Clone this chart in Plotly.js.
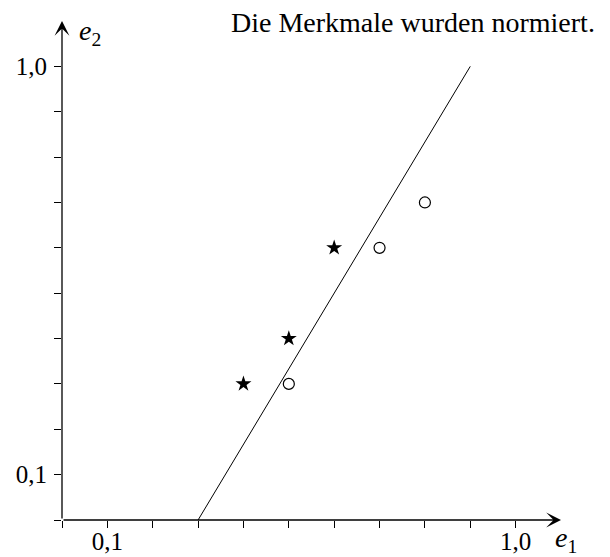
<!DOCTYPE html>
<html>
<head>
<meta charset="utf-8">
<script src="https://cdn.plot.ly/plotly-3.0.1.min.js"></script>
<style>html,body{margin:0;padding:0;background:#fff;}#chart{width:610px;height:557px;}</style>
</head>
<body>
<div id="chart"></div>
<script>
// data
const starX = [0.4, 0.5, 0.6];
const starY = [0.3, 0.4, 0.6];
const circleX = [0.5, 0.7, 0.8];
const circleY = [0.3, 0.6, 0.7];
const lineX = [0.3, 0.9];
const lineY = [0.0, 1.0];
const tickVals = [0, 0.1, 0.2, 0.3, 0.4, 0.5, 0.6, 0.7, 0.8, 0.9, 1.0];
const tickText = ['', '0,1', '', '', '', '', '', '', '', '', '1,0'];
const noteText = 'Die Merkmale wurden normiert.';

const serif = 'Liberation Serif, Times New Roman, serif';

const traces = [
  {x: lineX, y: lineY, mode: 'lines', line: {color: '#000', width: 1}, hoverinfo: 'skip', showlegend: false},
  {x: starX, y: starY, mode: 'markers', marker: {symbol: 'star', size: 12, color: '#000', line: {width: 0}}, showlegend: false, cliponaxis: false},
  {x: circleX, y: circleY, mode: 'markers', marker: {symbol: 'circle-open', size: 11, color: '#000', line: {width: 1.2, color: '#000'}}, showlegend: false, cliponaxis: false}
];

const axisCommon = {
  showgrid: false, zeroline: false, showline: false,
  ticks: 'outside', ticklen: 7, tickwidth: 1, tickcolor: '#000',
  tickmode: 'array', tickvals: tickVals, ticktext: tickText,
  tickfont: {family: serif, size: 25, color: '#000'},
  fixedrange: true
};

const layout = {
  width: 610, height: 557,
  margin: {l: 62, r: 49, t: 21, b: 37},
  paper_bgcolor: '#fff', plot_bgcolor: '#fff',
  xaxis: Object.assign({}, axisCommon, {range: [0, 1.1], ticklabelstandoff: -8}),
  yaxis: Object.assign({}, axisCommon, {range: [0, 1.1], ticklabelstandoff: 2}),
  showlegend: false,
  annotations: [
    {x: 1.1, y: 0, ax: 0, ay: 0, xref: 'x', yref: 'y', axref: 'x', ayref: 'y', text: '', showarrow: true,
     arrowhead: 3, arrowsize: 1.9, arrowwidth: 1.3, arrowcolor: '#000'},
    {x: 0, y: 1.1, ax: 0, ay: 0, xref: 'x', yref: 'y', axref: 'x', ayref: 'y', text: '', showarrow: true,
     arrowhead: 3, arrowsize: 1.9, arrowwidth: 1.3, arrowcolor: '#000'},
    {xref: 'paper', yref: 'paper', x: 1.072, y: 0.996, xanchor: 'right', yanchor: 'middle', showarrow: false,
     text: noteText, font: {family: serif, size: 28, color: '#000'}},
    {xref: 'paper', yref: 'paper', x: 0.030, y: 0.976, xanchor: 'left', yanchor: 'middle', showarrow: false,
     text: '<i>e</i><sub>2</sub>', font: {family: serif, size: 28, color: '#000'}},
    {xref: 'paper', yref: 'paper', x: 0.984, y: -0.040, xanchor: 'left', yanchor: 'middle', showarrow: false,
     text: '<i>e</i><sub>1</sub>', font: {family: serif, size: 28, color: '#000'}}
  ]
};

Plotly.newPlot('chart', traces, layout, {displayModeBar: false, staticPlot: true});
</script>
</body>
</html>
